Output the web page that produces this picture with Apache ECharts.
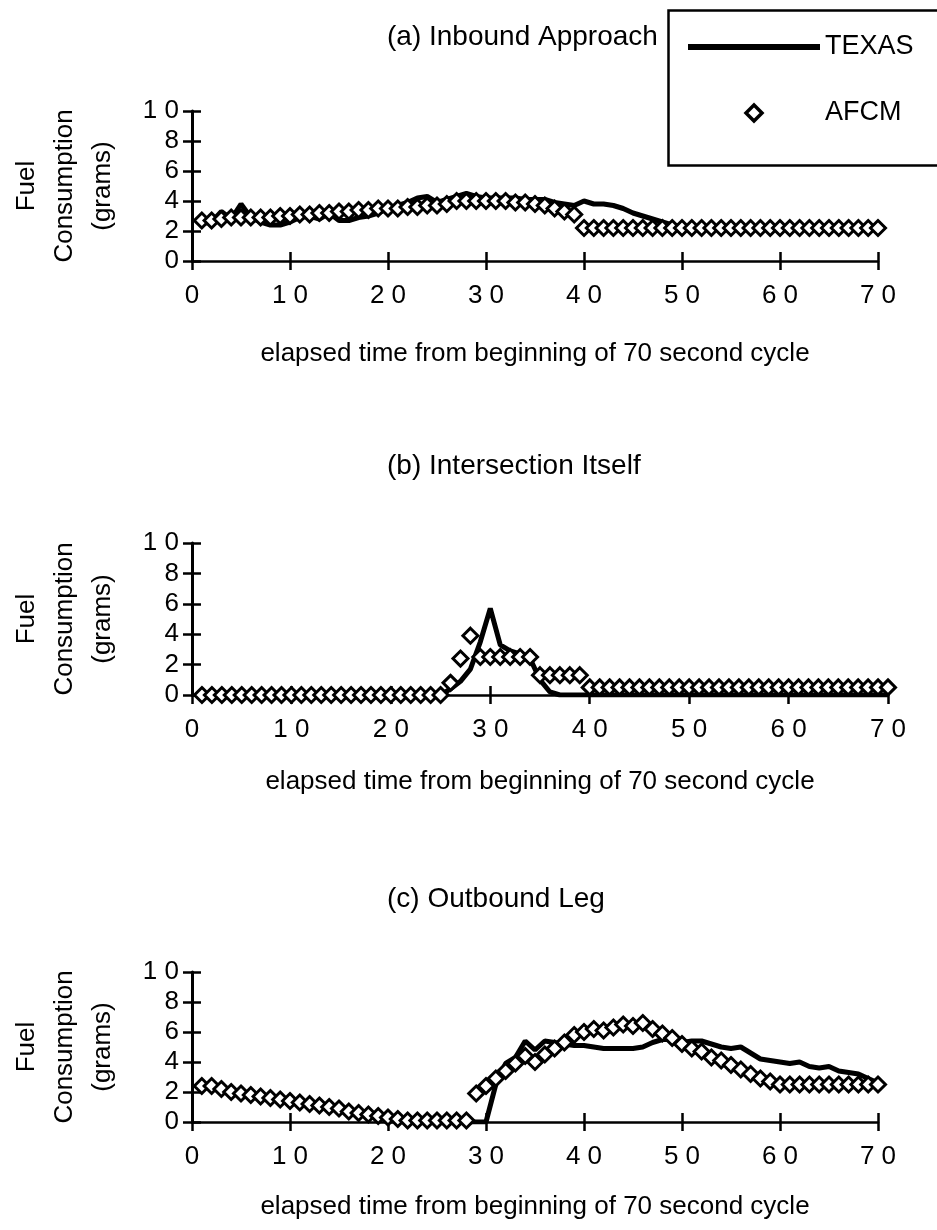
<!DOCTYPE html>
<html>
<head>
<meta charset="utf-8">
<script src="https://cdn.jsdelivr.net/npm/echarts@6.0.0/dist/echarts.min.js"></script>
<style>
html,body{margin:0;padding:0;background:#ffffff;}
#chart{width:937px;height:1230px;}
</style>
</head>
<body>
<div id="chart"></div>
<script>
// ---------------- data ----------------
const time = [1,2,3,4,5,6,7,8,9,10,11,12,13,14,15,16,17,18,19,20,21,22,23,24,25,26,27,28,29,30,31,32,33,34,35,36,37,38,39,40,41,42,43,44,45,46,47,48,49,50,51,52,53,54,55,56,57,58,59,60,61,62,63,64,65,66,67,68,69,70];

const texasInbound = [2.5,2.6,3.3,2.8,3.8,2.9,2.6,2.4,2.4,2.6, 2.9,3.0,2.8,3.2,2.7,2.7,2.9,3.0,3.2,3.5, 3.7,3.9,4.2,4.3,3.9,4.1,4.3,4.5,4.3,4.2, 4.2,4.2,4.2,4.1,4.1,4.1,3.9,3.8,3.7,4.0, 3.8,3.8,3.7,3.5,3.2,3.0,2.8,2.6,2.4,2.3, 2.2,2.2,2.2,2.2,2.2,2.2,2.2,2.2,2.2,2.2, 2.2,2.2,2.2,2.2,2.2,2.2,2.2,2.2,2.2,2.2];
const afcmInbound = [2.7,2.7,2.8,2.9,2.9,2.9,2.9,2.9,3.0,3.0, 3.1,3.1,3.2,3.2,3.3,3.3,3.4,3.4,3.5,3.5, 3.5,3.6,3.6,3.7,3.7,3.8,4.0,4.0,4.0,4.0, 4.0,4.0,3.9,3.9,3.8,3.7,3.5,3.3,3.1,2.2, 2.2,2.2,2.2,2.2,2.2,2.2,2.2,2.2,2.2,2.2, 2.2,2.2,2.2,2.2,2.2,2.2,2.2,2.2,2.2,2.2, 2.2,2.2,2.2,2.2,2.2,2.2,2.2,2.2,2.2,2.2];

const texasIntersection = [0,0,0,0,0,0,0,0,0,0, 0,0,0,0,0,0,0,0,0,0, 0,0,0,0,0,0.4,0.9,1.7,3.5,5.7, 3.3,2.9,2.7,2.4,1.0,0.2,0,0,0,0, 0,0,0,0,0,0,0,0,0,0, 0,0,0,0,0,0,0,0,0,0, 0,0,0,0,0,0,0,0,0,0];
const afcmIntersection = [0,0,0,0,0,0,0,0,0,0, 0,0,0,0,0,0,0,0,0,0, 0,0,0,0,0,0.8,2.4,3.9,2.5,2.5, 2.5,2.5,2.5,2.5,1.3,1.3,1.3,1.3,1.3,0.5, 0.5,0.5,0.5,0.5,0.5,0.5,0.5,0.5,0.5,0.5, 0.5,0.5,0.5,0.5,0.5,0.5,0.5,0.5,0.5,0.5, 0.5,0.5,0.5,0.5,0.5,0.5,0.5,0.5,0.5,0.5];

const texasOutbound = [2.3,2.4,2.2,2.0,1.9,1.8,1.6,1.5,1.5,1.3, 1.2,1.1,1.0,0.9,0.8,0.6,0.5,0.4,0.3,0.2, 0.1,0,0,0,0,0,0,0,0,0, 2.5,3.9,4.3,5.4,4.8,5.4,5.3,5.2,5.1,5.1, 5.0,4.9,4.9,4.9,4.9,5.0,5.3,5.5,5.5,5.3, 5.4,5.4,5.2,5.0,4.9,5.0,4.6,4.2,4.1,4.0, 3.9,4.0,3.7,3.6,3.7,3.4,3.3,3.2,2.9,2.6];
const afcmOutbound = [2.4,2.4,2.2,2.0,1.9,1.8,1.7,1.6,1.5,1.4, 1.3,1.2,1.1,1.0,0.9,0.7,0.6,0.5,0.4,0.3, 0.2,0.1,0.1,0.1,0.1,0.1,0.1,0.1,1.9,2.4, 2.9,3.4,3.9,4.4,4.0,4.5,4.9,5.3,5.8,6.0, 6.2,6.1,6.3,6.5,6.4,6.6,6.2,5.9,5.6,5.2, 4.9,4.7,4.3,4.1,3.8,3.5,3.2,2.9,2.7,2.5, 2.5,2.5,2.5,2.5,2.5,2.5,2.5,2.5,2.5,2.5];

const xTicks = [0,10,20,30,40,50,60,70];
const yTicks = [0,2,4,6,8,10];
const panelTitles = ['(a) Inbound Approach', '(b) Intersection Itself', '(c) Outbound Leg'];
const xAxisTitle = 'elapsed time from beginning of 70 second cycle';
const yAxisTitle = 'Fuel\nConsumption\n(grams)';
const seriesNames = ['TEXAS', 'AFCM'];

// ---------------- layout / style ----------------
const FONT = "'Liberation Sans', Arial, Helvetica, sans-serif";
const panels = [
  {texas: texasInbound, afcm: afcmInbound, grid: {left: 184, top: 111, width: 694, height: 150}, titleTop: 23, nameGap: 80},
  {texas: texasIntersection, afcm: afcmIntersection, grid: {left: 185, top: 543, width: 703, height: 152}, titleTop: 452, nameGap: 74},
  {texas: texasOutbound, afcm: afcmOutbound, grid: {left: 184, top: 972, width: 694, height: 150}, titleTop: 885, nameGap: 72}
];

const spaced = v => String(v).split('').join(' ');
const xStep = xTicks[1] - xTicks[0];
const yStep = yTicks[1] - yTicks[0];

const option = {
  animation: false,
  backgroundColor: '#ffffff',
  textStyle: {fontFamily: FONT, color: '#000'},
  title: panels.map((p, i) => ({
    text: panelTitles[i], left: 387, top: p.titleTop, padding: 0,
    textStyle: {fontFamily: FONT, fontSize: 28, fontWeight: 'normal', color: '#000'}
  })),
  grid: panels.map(p => Object.assign({containLabel: false}, p.grid)),
  xAxis: [],
  yAxis: [],
  legend: {
    orient: 'vertical', left: 688, top: 32, padding: 0,
    itemWidth: 132, itemHeight: 16, itemGap: 36, selectedMode: false,
    textStyle: {fontFamily: FONT, fontSize: 27, color: '#000', lineHeight: 30},
    data: [
      {name: seriesNames[0], icon: 'path://M0 0H132V6H0Z', itemStyle: {color: '#000', borderWidth: 0}},
      {name: seriesNames[1], icon: 'path://M8 0L16 8L8 16L0 8Z', itemStyle: {color: '#fff', borderColor: '#000', borderWidth: 3.5}}
    ]
  },
  graphic: [{
    type: 'rect', left: 666, top: 8, shape: {width: 290, height: 155},
    style: {fill: 'none', stroke: '#000', lineWidth: 2.5}, z: 10
  }],
  series: []
};

panels.forEach((p, i) => {
  option.xAxis.push({
    type: 'value', gridIndex: i, min: xTicks[0], max: xTicks[xTicks.length - 1], interval: xStep,
    axisLine: {show: true, onZero: false, lineStyle: {color: '#000', width: 2.5}},
    axisTick: {show: true, inside: false, length: 9, lineStyle: {color: '#000', width: 2.5}},
    axisLabel: {show: true, margin: 22, fontSize: 26, color: '#000', fontFamily: FONT, formatter: spaced},
    splitLine: {show: false},
    name: xAxisTitle, nameLocation: 'middle', nameGap: p.nameGap,
    nameTextStyle: {fontSize: 26, color: '#000', fontFamily: FONT}
  });
  option.xAxis.push({
    type: 'value', gridIndex: i, min: xTicks[0], max: xTicks[xTicks.length - 1], interval: xStep, position: 'bottom',
    axisLine: {show: false}, axisLabel: {show: false}, splitLine: {show: false},
    axisTick: {show: true, inside: true, length: 9, lineStyle: {color: '#000', width: 2.5}}
  });
  option.yAxis.push({
    type: 'value', gridIndex: i, min: yTicks[0], max: yTicks[yTicks.length - 1], interval: yStep,
    axisLine: {show: true, onZero: false, lineStyle: {color: '#000', width: 3}},
    axisTick: {show: true, inside: false, length: 9, lineStyle: {color: '#000', width: 2.5}},
    axisLabel: {show: true, margin: 13, fontSize: 26, color: '#000', fontFamily: FONT, formatter: spaced},
    splitLine: {show: false},
    name: yAxisTitle, nameLocation: 'middle', nameRotate: 90, nameGap: 70,
    nameTextStyle: {fontSize: 26, color: '#000', fontFamily: FONT, lineHeight: 38, align: 'center'}
  });
  option.yAxis.push({
    type: 'value', gridIndex: i, min: yTicks[0], max: yTicks[yTicks.length - 1], interval: yStep, position: 'left',
    axisLine: {show: false}, axisLabel: {show: false}, splitLine: {show: false},
    axisTick: {show: true, inside: true, length: 9, lineStyle: {color: '#000', width: 2.5}}
  });
  option.series.push({
    name: seriesNames[0], type: 'line', xAxisIndex: 2 * i, yAxisIndex: 2 * i,
    data: time.map((t, k) => [t, p.texas[k]]),
    symbol: 'none', lineStyle: {color: '#000', width: 5}, itemStyle: {color: '#000'}, z: 2
  });
  option.series.push({
    name: seriesNames[1], type: 'scatter', xAxisIndex: 2 * i, yAxisIndex: 2 * i,
    data: time.map((t, k) => [t, p.afcm[k]]),
    symbol: 'diamond', symbolSize: [15, 15],
    itemStyle: {color: '#fff', borderColor: '#000', borderWidth: 3, opacity: 1}, z: 3
  });
});

const chart = echarts.init(document.getElementById('chart'), null, {renderer: 'canvas'});
chart.setOption(option);
</script>
</body>
</html>
